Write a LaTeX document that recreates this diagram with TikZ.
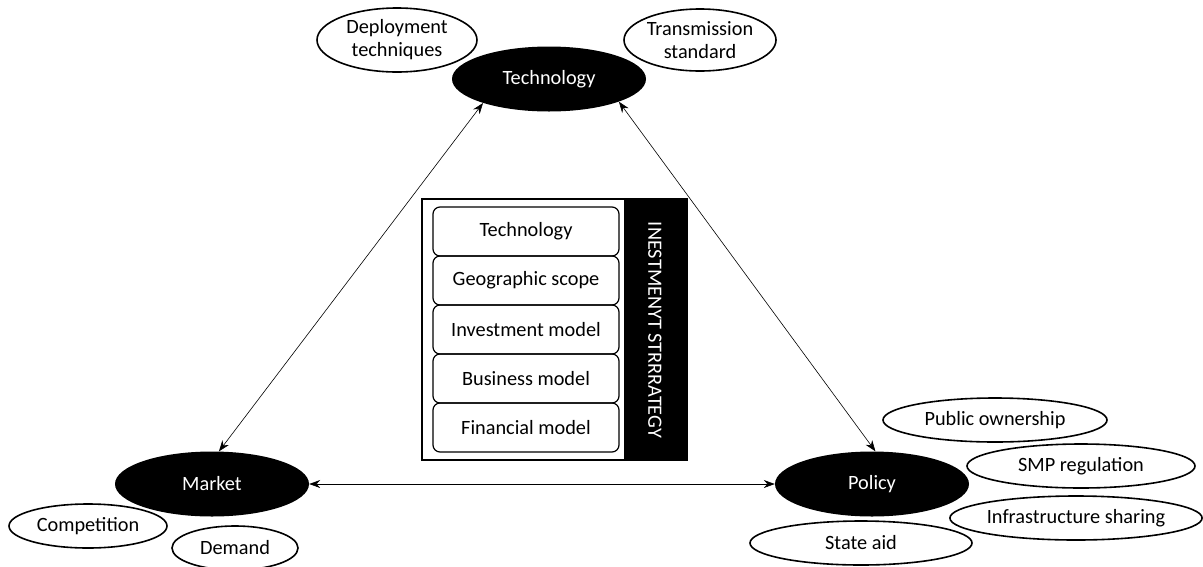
\documentclass[tikz,border=0pt]{standalone}
\usepackage{fontspec}
\setmainfont{Carlito}
\usetikzlibrary{shapes.geometric,arrows.meta}
\begin{document}
\begin{tikzpicture}[x=1pt,y=-1pt,
  every node/.style={font=\fontsize{20.3}{23}\selectfont, inner sep=0pt, align=center},
  main/.style={ellipse, fill=black, text=white, minimum width=194, minimum height=65},
  sub/.style={ellipse, draw=black, line width=1.6pt, fill=white},
  item/.style={draw=black, line width=1.2pt, rounded corners=7pt, minimum width=186, minimum height=49},
  conn/.style={{Stealth[length=11pt,width=8pt]}-{Stealth[length=11pt,width=8pt]}, line width=0.6pt}
]
\useasboundingbox (0,0) rectangle (1203,566);
% satellite ellipses
\node[sub, minimum width=160, minimum height=64] (deploy) at (397,40) {Deployment\\techniques};
\node[sub, minimum width=152, minimum height=62] (trans) at (700,40) {Transmission\\standard};
\node[sub, minimum width=158, minimum height=44] (comp) at (88,526) {Competition};
\node[sub, minimum width=126, minimum height=44] (dem) at (235,548) {Demand};
\node[sub, minimum width=224, minimum height=44] (pub) at (995,420) {Public ownership};
\node[sub, minimum width=228, minimum height=44] (smp) at (1081,466) {SMP regulation};
\node[sub, minimum width=252, minimum height=44] (infra) at (1076,518) {Infrastructure sharing};
\node[sub, minimum width=222, minimum height=44] (state) at (861,543) {State aid};
% main ellipses
\node[main] (tech) at (549,79) {Technology};
\node[main] (market) at (212,484) {Market};
\node[main] (policy) at (872,484) {Policy};
% central box
\node[draw=black, line width=1.2pt, minimum width=265, minimum height=261] (outer) at (554.5,329.5) {};
\node[fill=black, minimum width=63, minimum height=260] (strip) at (655.5,329.5) {};
\node[text=white, rotate=-90] (strat) at (655,330) {INESTMENYT STRRRATEGY};
\node[item] (i1) at (526,231.5) {Technology};
\node[item] (i2) at (526,280.5) {Geographic scope};
\node[item] (i3) at (526,329.5) {Investment model};
\node[item] (i4) at (526,378.5) {Business model};
\node[item] (i5) at (526,427.5) {Financial model};
% connectors
\draw[conn] (tech.200) -- (market.78);
\draw[conn] (tech.-18) -- (policy.84);
\draw[conn] (market.east) -- (policy.west);
\end{tikzpicture}
\end{document}
